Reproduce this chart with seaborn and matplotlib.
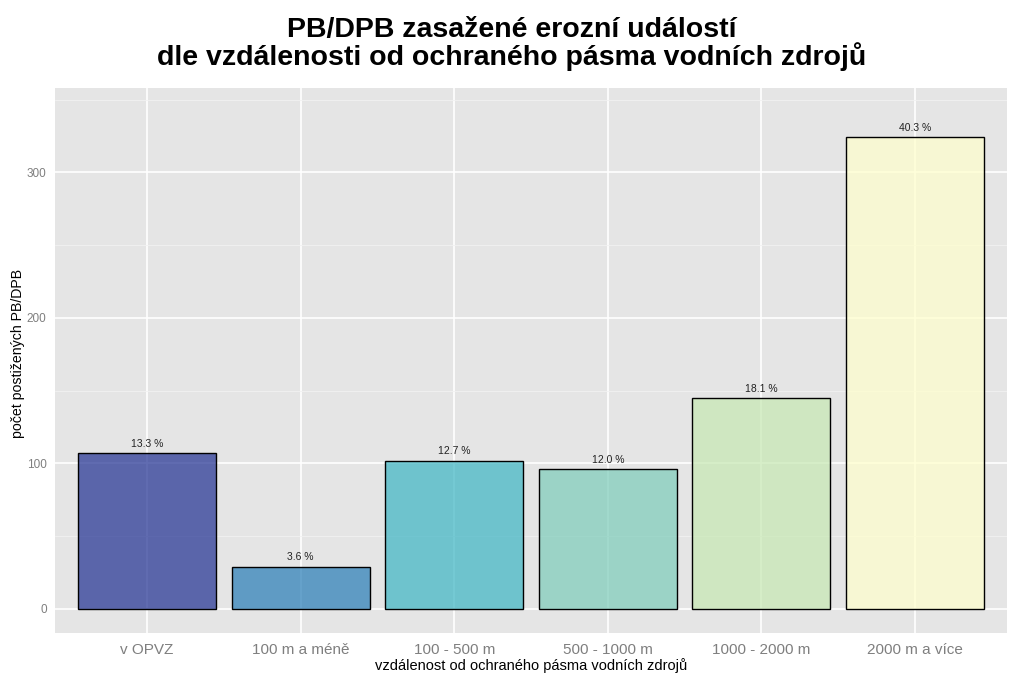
import matplotlib
matplotlib.use("Agg")
import matplotlib.pyplot as plt
import matplotlib.colors as mcolors
import seaborn as sns
import pandas as pd
import numpy as np

categories = ["v OPVZ", "100 m a méně", "100 - 500 m", "500 - 1000 m", "1000 - 2000 m", "2000 m a více"]
counts = [107, 29, 102, 96, 145, 324]
pct_labels = ["13.3 %", "3.6 %", "12.7 %", "12.0 %", "18.1 %", "40.3 %"]
y_ticks = [0, 100, 200, 300]

title = "PB/DPB zasažené erozní událostí\ndle vzdálenosti od ochraného pásma vodních zdrojů"
xlabel = "vzdálenost od ochraného pásma vodních zdrojů"
ylabel = "počet postižených PB/DPB"

df = pd.DataFrame({"kat": categories, "n": counts})

sns.set_theme(style="darkgrid")
plt.rcParams["font.family"] = ["Liberation Sans", "DejaVu Sans"]

fig = plt.figure(figsize=(10.24, 6.82), dpi=100)
ax = fig.add_axes([55/1024, 1 - 633/682, (1007-55)/1024, (633-88)/682])
ax.set_facecolor("#e5e5e5")

palette = ["#253494", "#2c7fb8", "#41b6c4", "#7fcdbb", "#c7e9b4", "#ffffcc"]
sns.barplot(data=df, x="kat", y="n", hue="kat", palette=palette, legend=False,
            width=0.9, edgecolor="black", linewidth=1.0, ax=ax, zorder=3)
for p, c in zip(ax.patches, palette):
    p.set_alpha(None)
    p.set_facecolor(mcolors.to_rgba(c, 0.72))
    p.set_edgecolor((0, 0, 0, 1))

for i, (v, lab) in enumerate(zip(counts, pct_labels)):
    ax.text(i, v + 3, lab, ha="center", va="bottom", fontsize=7.5, color="#222222", zorder=4)

ax.set_xlim(-0.6, 5.6)
ax.set_ylim(-16.5, 358)
ax.set_yticks(y_ticks)
ax.set_yticks([50, 150, 250, 350], minor=True)
ax.grid(True, which="major", color="white", linewidth=1.2, zorder=0)
ax.grid(True, which="minor", axis="y", color="#f2f2f2", linewidth=0.6, zorder=0)
ax.set_axisbelow(True)
for s in ax.spines.values():
    s.set_visible(False)

ax.tick_params(axis="x", colors="#7f7f7f", labelsize=11, length=4, width=0.8, pad=3, labelcolor="#7f7f7f")
ax.tick_params(axis="y", colors="#7f7f7f", labelsize=8.5, length=4, width=0.8, pad=2, labelcolor="#7f7f7f")
ax.tick_params(axis="y", which="minor", length=0)

ax.set_xlabel(xlabel, fontsize=10.5, color="black", labelpad=1)
ax.set_ylabel(ylabel, fontsize=10.2, color="black")
ax.yaxis.set_label_coords(-0.0315, 0.513)

fig.suptitle(title, fontsize=20.5, fontweight="bold", color="black", y=0.975, linespacing=0.95)

fig.savefig("out.png", dpi=100)
